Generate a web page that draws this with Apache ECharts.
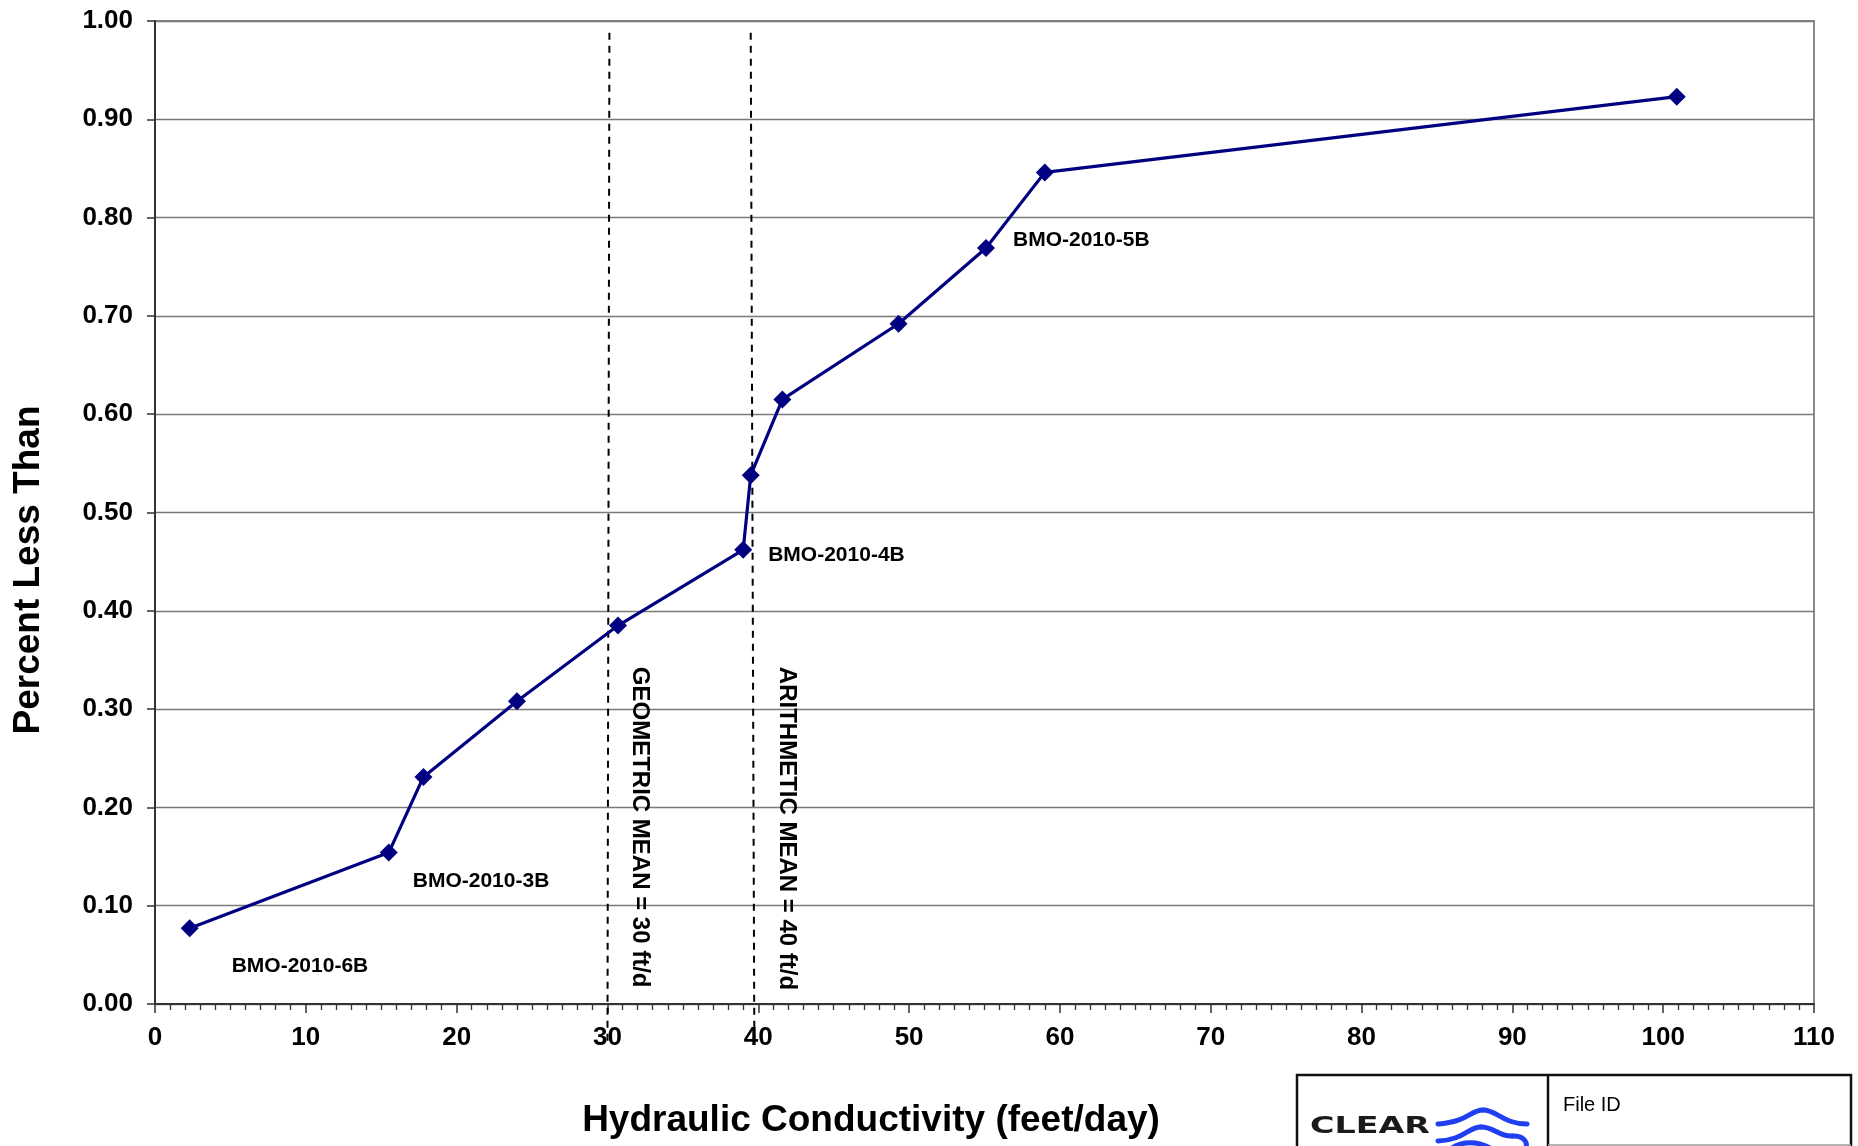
<!DOCTYPE html>
<html>
<head>
<meta charset="utf-8">
<style>
  html, body { margin: 0; padding: 0; background: #ffffff; }
  #chart { width: 1858px; height: 1146px; }
</style>
<script src="https://cdn.jsdelivr.net/npm/echarts@6/dist/echarts.min.js"></script>
</head>
<body>
<div id="chart"></div>
<script>
// ---- data ----
const hydraulicK = [2.3, 15.5, 17.8, 24.0, 30.7, 39.0, 39.5, 41.6, 49.3, 55.1, 59.0, 100.9];
const percentLess = [0.077, 0.154, 0.231, 0.308, 0.385, 0.462, 0.538, 0.615, 0.692, 0.769, 0.846, 0.923];
const wellLabels = ['BMO-2010-6B', 'BMO-2010-3B', '', '', '', 'BMO-2010-4B', '', '', '', 'BMO-2010-5B', '', ''];

const geometricMeanLine = [[30.13, 0.988], [30.0, -0.042]];
const arithmeticMeanLine = [[39.5, 0.988], [39.74, -0.042]];
const meanLabels = ['GEOMETRIC MEAN = 30 ft/d', 'ARITHMETIC MEAN = 40 ft/d'];
const meanLabelAt = [[32.1, 0.343], [41.9, 0.343]];

const xTitle = 'Hydraulic Conductivity (feet/day)';
const yTitle = 'Percent Less Than';

// ---- styling ----
const FONT = '"Liberation Sans", Arial, sans-serif';
const labelOffsets = { 0: [42, 38], 1: [24, 29], 5: [25, 5], 9: [27, -8] };

const seriesData = hydraulicK.map((x, i) => {
  const item = { value: [x, percentLess[i]] };
  if (wellLabels[i]) {
    item.label = {
      show: true,
      formatter: wellLabels[i],
      position: 'inside',
      align: 'left',
      verticalAlign: 'middle',
      offset: labelOffsets[i],
      color: '#000',
      fontFamily: FONT,
      fontWeight: 'bold',
      fontSize: 21
    };
  }
  return item;
});

const chart = echarts.init(document.getElementById('chart'), null, { renderer: 'canvas' });

const dashedStyle = { color: '#000', width: 2, type: [7, 6] };

const option = {
  animation: false,
  backgroundColor: '#ffffff',
  grid: {
    left: 155, right: 44, top: 21, bottom: 142,
    show: true, borderColor: '#8a8a8a', borderWidth: 2
  },
  xAxis: {
    type: 'value', min: 0, max: 110, interval: 10,
    axisLine: { show: true, onZero: false, lineStyle: { color: '#333', width: 2 } },
    axisTick: { show: true, length: 9, lineStyle: { color: '#333', width: 1.5 } },
    minorTick: { show: true, splitNumber: 10, length: 6, lineStyle: { color: '#333', width: 1.3 } },
    axisLabel: { margin: 21, color: '#000', fontFamily: FONT, fontWeight: 'bold', fontSize: 26 },
    splitLine: { show: false }
  },
  yAxis: {
    type: 'value', min: 0, max: 1, interval: 0.1,
    axisLine: { show: true, onZero: false, lineStyle: { color: '#333', width: 2 } },
    axisTick: { show: true, length: 8, lineStyle: { color: '#333', width: 1.5 } },
    axisLabel: {
      margin: 22, color: '#000', fontFamily: FONT, fontWeight: 'bold', fontSize: 26,
      formatter: v => v.toFixed(2)
    },
    splitLine: { show: true, lineStyle: { color: '#7a7a7a', width: 1.4 } }
  },
  series: [
    {
      type: 'line', data: geometricMeanLine, symbol: 'none', clip: false,
      lineStyle: dashedStyle, z: 3, silent: true
    },
    {
      type: 'line', data: arithmeticMeanLine, symbol: 'none', clip: false,
      lineStyle: dashedStyle, z: 3, silent: true
    },
    {
      type: 'line', data: seriesData, symbol: 'diamond', symbolSize: 18,
      lineStyle: { color: '#000080', width: 3.2 },
      itemStyle: { color: '#000080' },
      z: 5
    }
  ]
};

chart.setOption(option);

// annotations and titles
const graphics = [];
meanLabels.forEach((t, i) => {
  const p = chart.convertToPixel({ gridIndex: 0 }, meanLabelAt[i]);
  graphics.push({
    type: 'text', x: p[0], y: p[1], rotation: -Math.PI / 2, z: 10,
    style: {
      text: t, x: 0, y: 0, textAlign: 'left', textVerticalAlign: 'middle',
      font: 'bold 24px ' + FONT, fill: '#000'
    }
  });
});

graphics.push({
  type: 'text', x: 29, y: 570, rotation: Math.PI / 2, z: 10,
  style: { text: yTitle, x: 0, y: 0, textAlign: 'center', textVerticalAlign: 'middle',
           font: 'bold 37px ' + FONT, fill: '#000' }
});
graphics.push({
  type: 'text', x: 871, y: 1121, z: 10,
  style: { text: xTitle, x: 0, y: 0, textAlign: 'center', textVerticalAlign: 'middle',
           font: 'bold 37px ' + FONT, fill: '#000' }
});

// logo / file id box
graphics.push({
  type: 'rect', z: 10,
  shape: { x: 1297, y: 1075, width: 554, height: 80 },
  style: { fill: '#fff', stroke: '#111', lineWidth: 2.5 }
});
graphics.push({
  type: 'line', z: 11,
  shape: { x1: 1548, y1: 1075, x2: 1548, y2: 1146 },
  style: { stroke: '#111', lineWidth: 2.5 }
});
graphics.push({
  type: 'line', z: 11,
  shape: { x1: 1548, y1: 1145, x2: 1851, y2: 1145 },
  style: { stroke: '#999', lineWidth: 1.5 }
});
graphics.push({
  type: 'text', x: 1563, y: 1105, z: 11,
  style: { text: 'File ID', x: 0, y: 0, textAlign: 'left', textVerticalAlign: 'middle',
           font: '20px ' + FONT, fill: '#000' }
});
graphics.push({
  type: 'text', x: 1310, y: 1127, z: 11, scaleX: 1.45,
  style: { text: 'CLEAR', x: 0, y: 0, textAlign: 'left', textVerticalAlign: 'middle',
           font: 'bold 23px "DejaVu Sans", sans-serif', fill: '#1a1a1a' }
});
const waveStyle = { stroke: '#1f3ff0', lineWidth: 5, fill: null, lineCap: 'round' };
const waves = [
  { x1: 1438, y1: 1124, cpx1: 1468, cpy1: 1122, cpx2: 1470, cpy2: 1110, x2: 1483, y2: 1110 },
  { x1: 1483, y1: 1110, cpx1: 1497, cpy1: 1110, cpx2: 1503, cpy2: 1124, x2: 1527, y2: 1124 },
  { x1: 1438, y1: 1141, cpx1: 1464, cpy1: 1140, cpx2: 1468, cpy2: 1127, x2: 1481, y2: 1127 },
  { x1: 1481, y1: 1127, cpx1: 1494, cpy1: 1127, cpx2: 1500, cpy2: 1137, x2: 1512, y2: 1136 },
  { x1: 1512, y1: 1136, cpx1: 1522, cpy1: 1135, cpx2: 1528, cpy2: 1141, x2: 1526, y2: 1148 },
  { x1: 1452, y1: 1148, cpx1: 1462, cpy1: 1141, cpx2: 1478, cpy2: 1141, x2: 1490, y2: 1148 }
];
waves.forEach(s => graphics.push({ type: 'bezierCurve', z: 11, shape: s, style: waveStyle }));

chart.setOption({ graphic: graphics });
</script>
</body>
</html>
